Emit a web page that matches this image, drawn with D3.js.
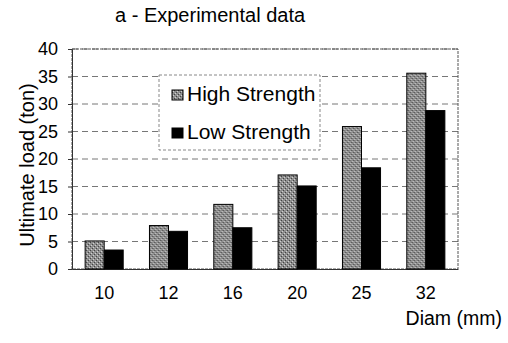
<!DOCTYPE html>
<html><head><meta charset="utf-8">
<script src="https://cdn.jsdelivr.net/npm/d3@7"></script>
<style>
body{margin:0;background:#fff;}
svg{display:block;font-family:Arial,"Liberation Sans",sans-serif;}
</style></head>
<body>
<svg id="c" width="508" height="343"></svg>
<script>
const categories = ["10","12","16","20","25","32"];
const seriesNames = ["High Strength","Low Strength"];
const highStrength = [5.1, 7.9, 11.75, 17.1, 25.9, 35.6];
const lowStrength = [3.45, 6.85, 7.5, 15.1, 18.4, 28.8];
const yTicks = [0,5,10,15,20,25,30,35,40];

const svg = d3.select("#c");
const L = 72, R = 458, T = 49, B = 269;

const defs = svg.append("defs");
const pat = defs.append("pattern").attr("id","stip").attr("width",4).attr("height",4)
  .attr("patternUnits","userSpaceOnUse");
pat.append("rect").attr("width",4).attr("height",4).attr("fill","#8e8e8e");
pat.append("rect").attr("x",0).attr("y",0).attr("width",1).attr("height",1).attr("fill","#444");
pat.append("rect").attr("x",2).attr("y",2).attr("width",1).attr("height",1).attr("fill","#444");
pat.append("rect").attr("x",1).attr("y",3).attr("width",1).attr("height",1).attr("fill","#d0d0d0");
pat.append("rect").attr("x",3).attr("y",1).attr("width",1).attr("height",1).attr("fill","#d0d0d0");

const x = d3.scaleBand().domain(categories).range([L,R]).padding(0);
const xs = d3.scaleBand().domain(seriesNames).range([0,x.bandwidth()]).paddingInner(0).paddingOuter(0.69);
const y = d3.scaleLinear().domain([0,40]).range([B,T]);

// gridlines
svg.append("g").selectAll("line").data(yTicks.filter(d=>d>0)).join("line")
  .attr("x1",L).attr("x2",R).attr("y1",d=>y(d)).attr("y2",d=>y(d))
  .attr("stroke","#777").attr("stroke-width",1).attr("stroke-dasharray","6,4");
// plot border
svg.append("rect").attr("x",L).attr("y",T).attr("width",R-L).attr("height",B-T)
  .attr("fill","none").attr("stroke","#555").attr("stroke-dasharray","3,1");

// y axis
const ya = svg.append("g").attr("transform",`translate(${L},0)`)
  .call(d3.axisLeft(y).tickValues(yTicks).tickSize(4).tickPadding(10));
ya.select(".domain").attr("stroke","#333");
ya.selectAll(".tick line").attr("stroke","#333");
ya.selectAll("text").attr("font-size",18).attr("fill","#000").attr("font-family","Arial,'Liberation Sans',sans-serif");

// x axis labels
const xa = svg.append("g").attr("transform",`translate(0,${B})`)
  .call(d3.axisBottom(x).tickSize(0).tickPadding(17));
xa.select(".domain").attr("stroke","#333");
xa.selectAll("text").attr("font-size",18).attr("fill","#000").attr("font-family","Arial,'Liberation Sans',sans-serif");

// bars
const data = categories.map((c,i)=>({c, vals:[highStrength[i], lowStrength[i]]}));
const fills = ["url(#stip)","#000"];
svg.append("g").selectAll("g").data(data).join("g")
  .attr("transform",d=>`translate(${x(d.c)},0)`)
  .selectAll("rect").data(d=>d.vals.map((v,j)=>({v,s:seriesNames[j],j})))
  .join("rect")
  .attr("x",d=>xs(d.s)).attr("width",xs.bandwidth())
  .attr("y",d=>y(d.v)).attr("height",d=>B-y(d.v))
  .attr("fill",d=>fills[d.j]).attr("stroke","#000").attr("stroke-width",1);

// legend
const lg = svg.append("g");
lg.append("rect").attr("x",159).attr("y",75).attr("width",161).attr("height",75)
  .attr("fill","#fff").attr("stroke","#888").attr("stroke-dasharray","3,2");
seriesNames.forEach((s,i)=>{
  const base = 101 + i*38;
  lg.append("rect").attr("x",172).attr("y",base-11).attr("width",11).attr("height",10)
    .attr("fill",fills[i]).attr("stroke","#000");
  lg.append("text").attr("x",187).attr("y",base).attr("font-size",21).text(s);
});

// titles
svg.append("text").attr("x",115).attr("y",22).attr("font-size",20).text("a - Experimental data");
svg.append("text").attr("x",502).attr("y",325).attr("text-anchor","end").attr("font-size",19.5).text("Diam (mm)");
svg.append("text").attr("transform","translate(34,165) rotate(-90)").attr("text-anchor","middle")
  .attr("font-size",20).text("Ultimate load (ton)");
</script>
</body></html>
